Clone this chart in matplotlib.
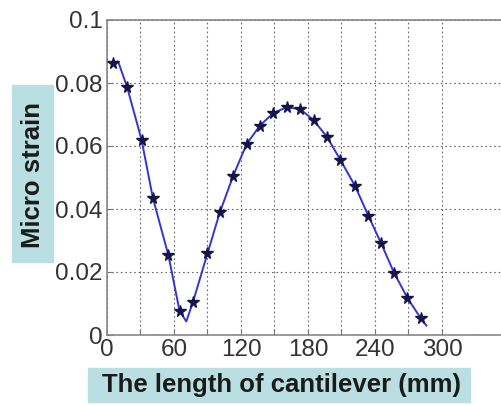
import matplotlib
matplotlib.use("Agg")
import matplotlib.pyplot as plt
from matplotlib.patches import Rectangle

plt.rcParams['font.family'] = ['Liberation Sans', 'DejaVu Sans']

# measured points (stars)
pt_x = [5, 18, 31, 41, 55, 65, 77, 90, 101, 113, 125, 137, 149, 161, 173, 185,
        197, 209, 222, 234, 245.5, 257, 269, 281]
pt_y = [0.0862, 0.0787, 0.0619, 0.0436, 0.0253, 0.0076, 0.0105, 0.0259, 0.0389,
        0.0505, 0.0606, 0.0665, 0.0705, 0.0723, 0.0717, 0.0682, 0.0629, 0.0556,
        0.0474, 0.0379, 0.0291, 0.0198, 0.0118, 0.0053]

# fitted curve
line_x = [5, 10, 18, 31, 41, 55, 65, 71, 77, 90, 101, 113, 125, 137, 149, 161,
          173, 185, 197, 209, 222, 234, 245.5, 257, 269, 281, 286]
line_y = [0.0865, 0.0868, 0.0787, 0.0619, 0.0436, 0.0253, 0.0076, 0.0043, 0.0105,
          0.0259, 0.0389, 0.0505, 0.0606, 0.0665, 0.0705, 0.0723, 0.0717, 0.0682,
          0.0629, 0.0556, 0.0474, 0.0379, 0.0291, 0.0198, 0.0118, 0.0053, 0.0030]

x_ticks = [0, 30, 60, 90, 120, 150, 180, 210, 240, 270, 300]
x_ticklabels = ['0', '', '60', '', '120', '', '180', '', '240', '', '300']
y_ticks = [0, 0.02, 0.04, 0.06, 0.08, 0.1]
y_ticklabels = ['0', '0.02', '0.04', '0.06', '0.08', '0.1']

W, H = 502, 405
fig = plt.figure(figsize=(W / 100, H / 100), dpi=100)
ax = fig.add_axes([107 / W, (H - 335) / H, 402 / W, 315 / H])

ax.plot(line_x, line_y, color='#3434d0', lw=1.4, zorder=3)
ax.plot(pt_x, pt_y, ls='none', marker='*', ms=8.5, color='#15154a',
        markeredgecolor='#15154a', zorder=4)

ax.set_xlim(0, 360)
ax.set_ylim(0, 0.1)
ax.set_xticks(x_ticks)
ax.set_xticklabels(x_ticklabels)
ax.set_yticks(y_ticks)
ax.set_yticklabels(y_ticklabels)
ax.grid(True, ls=(0, (1.5, 2.5)), color='#666666', lw=0.8)
ax.tick_params(direction='in', length=4, colors='#777777', labelcolor='#333333',
               labelsize=17.5)
ax.tick_params(axis='x', pad=3)
ax.tick_params(axis='y', pad=3)
for s in ['left', 'top', 'bottom']:
    ax.spines[s].set_color('#888888')
    ax.spines[s].set_linewidth(1.2)
ax.spines['right'].set_visible(False)

box_col = '#b9dfe2'
fig.patches.append(Rectangle((12 / W, (H - 262) / H), 41 / W, 177 / H,
                             transform=fig.transFigure, color=box_col, zorder=0))
fig.patches.append(Rectangle((88 / W, (H - 402) / H), 382 / W, 34 / H,
                             transform=fig.transFigure, color=box_col, zorder=0))
fig.text(33 / W, (H - 175) / H, 'Micro strain', rotation=90, ha='center',
         va='center', fontsize=18.5, fontweight='bold', color='#1a1a1a')
fig.text(282 / W, (H - 385) / H, 'The length of cantilever (mm)', ha='center',
         va='center', fontsize=18.5, fontweight='bold', color='#1a1a1a')

fig.savefig('out.png', dpi=100)
